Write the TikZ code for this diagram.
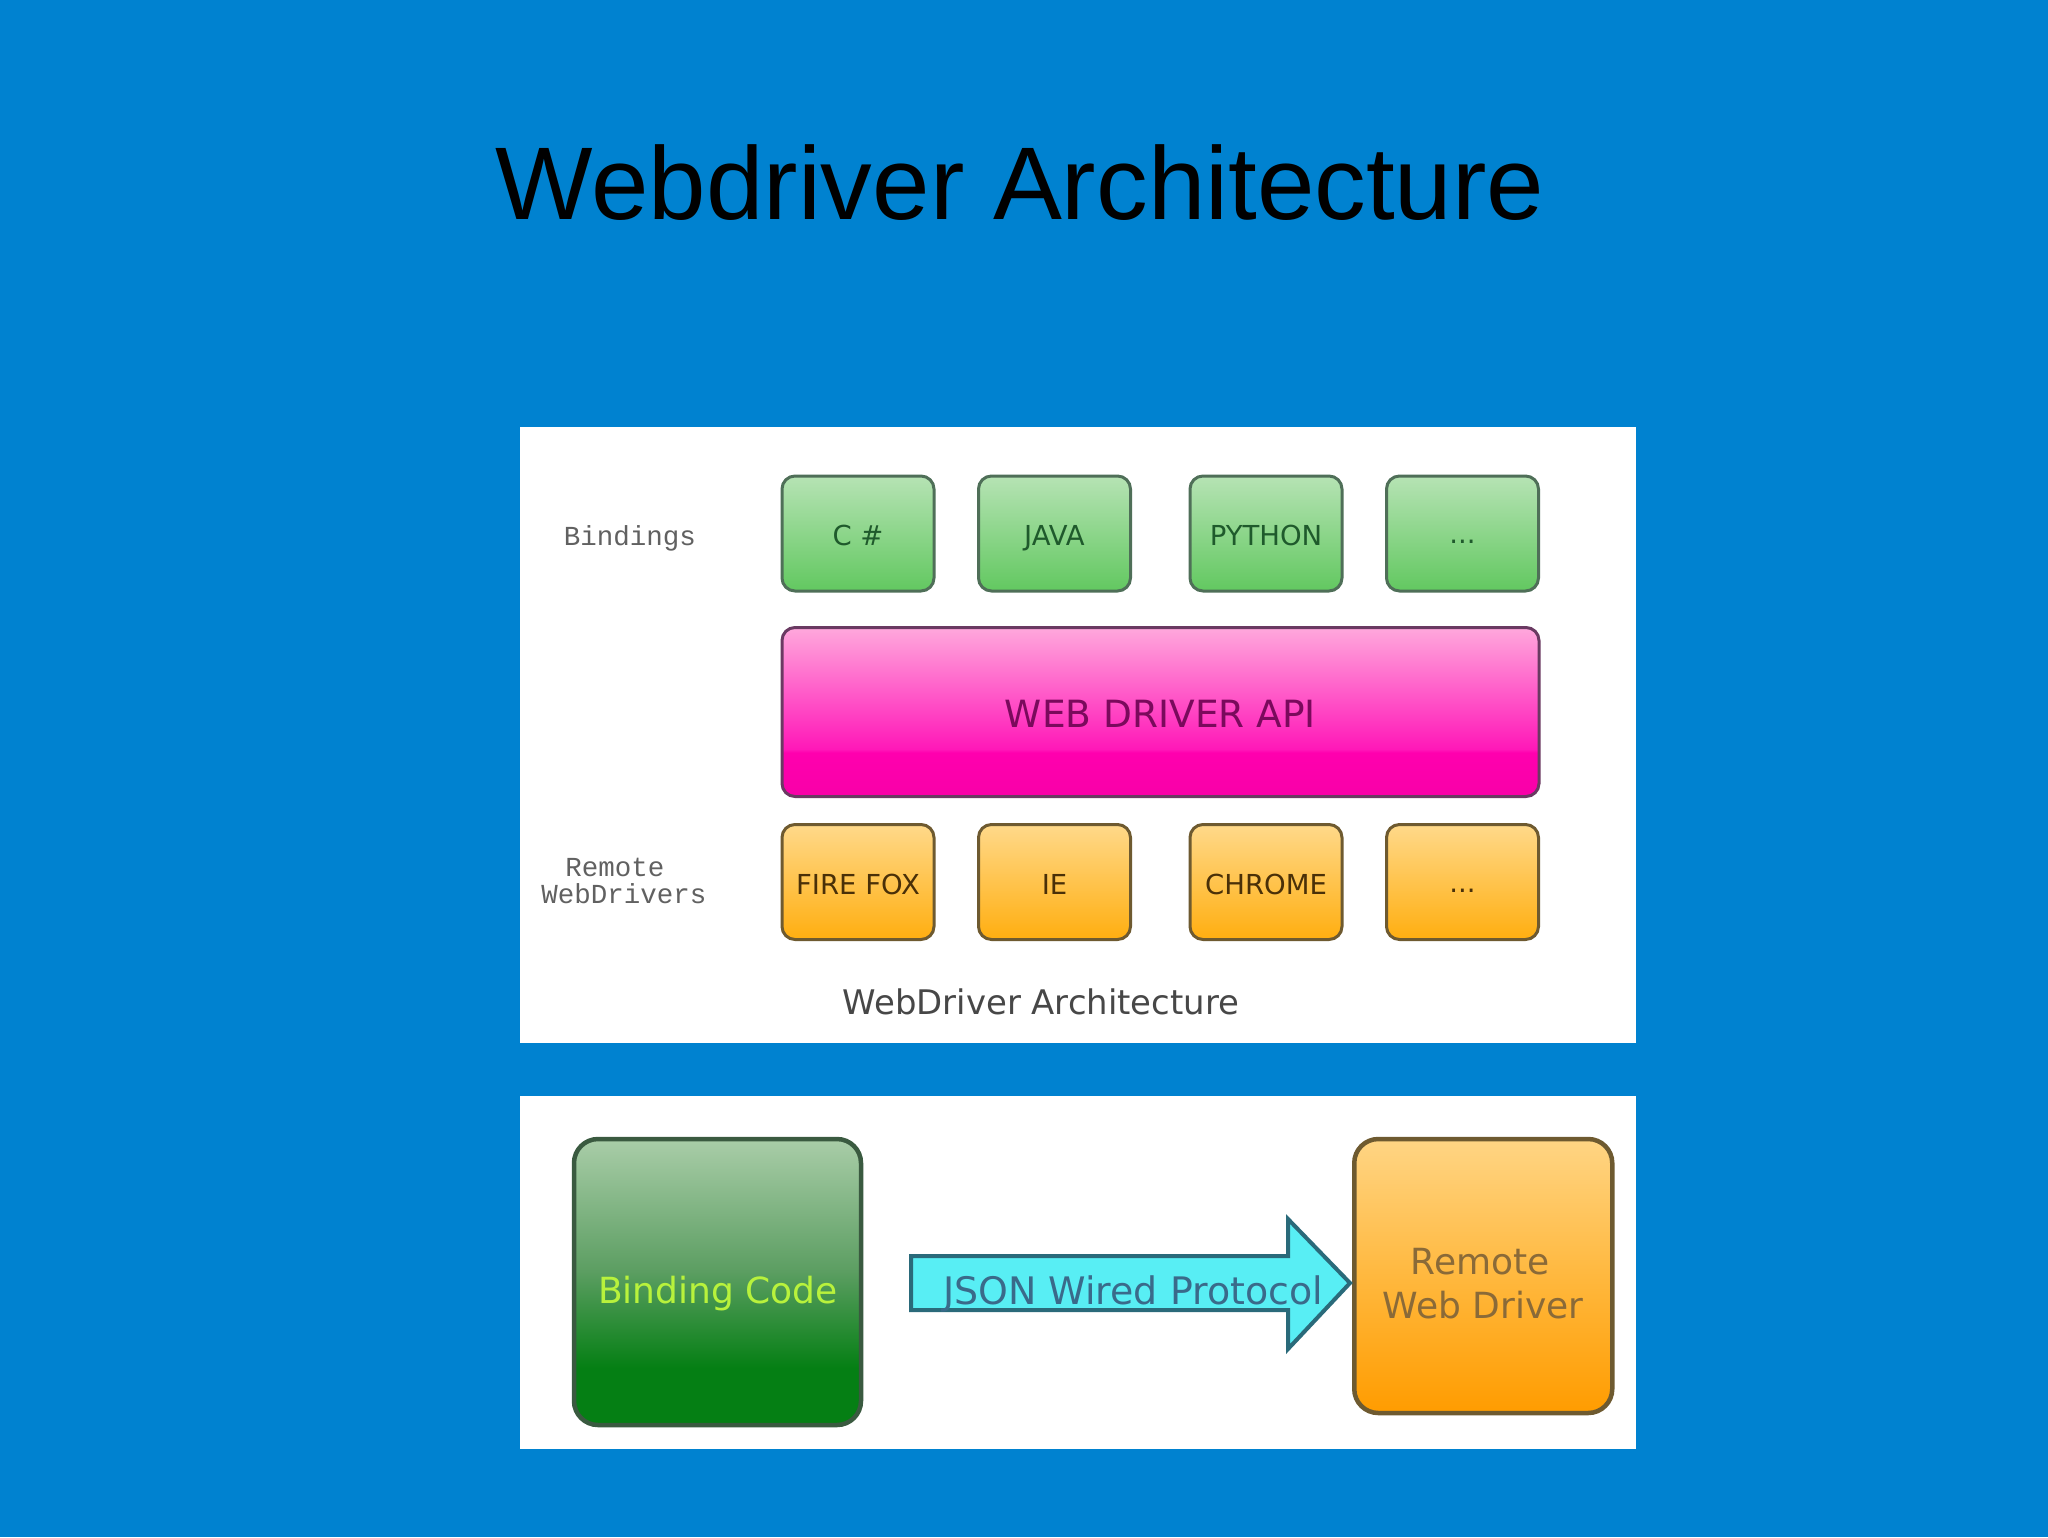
\documentclass[tikz,border=0pt]{standalone}
\usepackage{fontspec}
\setmainfont{DejaVu Sans}
\newfontfamily\titlefont{Liberation Sans}
\newfontfamily\codefont{Liberation Mono}
\definecolor{bgblue}{HTML}{0082D0}
\definecolor{gline}{HTML}{4F6F58}
\definecolor{oline}{HTML}{6E5A30}
\definecolor{pline}{HTML}{6A3A62}
\definecolor{ga}{HTML}{62C860}
\definecolor{gb}{HTML}{B6E3B4}
\definecolor{oa}{HTML}{FFAE10}
\definecolor{ob}{HTML}{FFD98A}
\definecolor{pa}{HTML}{F800A8}
\definecolor{pb}{HTML}{FF00AE}
\definecolor{pc}{HTML}{FF18B8}
\definecolor{pd}{HTML}{FFA8DC}
\definecolor{bga}{HTML}{057F14}
\definecolor{bgb}{HTML}{5C9E62}
\definecolor{bgc}{HTML}{A9CDA8}
\definecolor{boa}{HTML}{FF9C00}
\definecolor{bob}{HTML}{FFB83E}
\definecolor{boc}{HTML}{FFD584}
\definecolor{gtext}{HTML}{1F5A2C}
\definecolor{otext}{HTML}{4A3008}
\definecolor{ptext}{HTML}{7A0A5C}
\definecolor{lime}{HTML}{B8F23C}
\definecolor{rtext}{HTML}{8A6A38}
\definecolor{jtext}{HTML}{3A6A8A}
\definecolor{acyan}{HTML}{58EEF4}
\definecolor{aline}{HTML}{2A6A7A}
\definecolor{bgline}{HTML}{3A5A40}
\pgfdeclareverticalshading{gsmall}{100bp}{color(0bp)=(ga); color(25bp)=(ga); color(75bp)=(gb); color(100bp)=(gb)}
\pgfdeclareverticalshading{osmall}{100bp}{color(0bp)=(oa); color(25bp)=(oa); color(75bp)=(ob); color(100bp)=(ob)}
\pgfdeclareverticalshading{papi}{100bp}{color(0bp)=(pa); color(25bp)=(pa); color(38bp)=(pb); color(39bp)=(pc); color(75bp)=(pd); color(100bp)=(pd)}
\pgfdeclareverticalshading{gbig}{100bp}{color(0bp)=(bga); color(25bp)=(bga); color(35bp)=(bga); color(52bp)=(bgb); color(75bp)=(bgc); color(100bp)=(bgc)}
\pgfdeclareverticalshading{obig}{100bp}{color(0bp)=(boa); color(25bp)=(boa); color(50bp)=(bob); color(75bp)=(boc); color(100bp)=(boc)}
\tikzset{
  fs/.style={font=\fontsize{#1}{#1}\selectfont},
  box/.style={rounded corners=13pt,inner sep=0pt,text depth=0pt,text height=24pt,line width=3pt},
  dots/.style={text height=20pt},
  gbox/.style={box,draw=gline,shading=gsmall,text=gtext,minimum width=152pt,minimum height=115pt,fs=27.5},
  obox/.style={box,draw=oline,shading=osmall,text=otext,minimum width=152pt,minimum height=115pt,fs=27.5},
  apibox/.style={box,draw=pline,shading=papi,text=ptext,minimum width=757pt,minimum height=169pt,fs=37.5,text height=31pt},
  bigbox/.style={rounded corners=24pt,inner sep=0pt,line width=4.5pt},
  panel/.style={fill=white,draw=none,inner sep=0pt},
  sidelabel/.style={inner sep=0pt,text=black!62,align=center,font=\codefont\fontsize{27.5}{27.5}\selectfont},
}
\begin{document}
\begin{tikzpicture}[x=1pt,y=-1pt]
\useasboundingbox (0,0) rectangle (2048,1537);
\fill[bgblue] (0,0) rectangle (2048,1537);
\node[inner sep=0pt,text=black,font=\titlefont\fontsize{103.3}{103.3}\selectfont,anchor=base] (title) at (1020,219) {Webdriver Architecture};
% panels
\node[panel,minimum width=1115.5pt,minimum height=616pt] (panelA) at (1077.75,735) {};
\node[panel,minimum width=1115.5pt,minimum height=353pt] (panelB) at (1077.75,1272.5) {};
% bindings
\node[sidelabel] (lbind) at (630,538) {Bindings};
\node[gbox] (cs) at (858,533.5) {C \#};
\node[gbox] (java) at (1054.5,533.5) {JAVA};
\node[gbox] (python) at (1266,533.5) {PYTHON};
\node[gbox,dots] (gmore) at (1462.5,533.5) {...};
% api
\node[apibox] (api) at (1160.5,712) {WEB DRIVER API};
% drivers
\node[sidelabel] (ldrv) at (624,881) {Remote\kern18pt\\WebDrivers};
\node[obox] (ff) at (858,882) {FIRE FOX};
\node[obox] (ie) at (1054.5,882) {IE};
\node[obox] (chrome) at (1266,882) {CHROME};
\node[obox,dots] (omore) at (1462.5,882) {...};
\node[inner sep=0pt,text=black!72,fs=33.9] (cap) at (1041,1002) {WebDriver Architecture};
% bottom
\node[bigbox,draw=bgline,shading=gbig,minimum width=287pt,minimum height=286pt] (bind) at (717.5,1282) {};
\node[inner sep=0pt,text=lime,fs=36] (bindt) at (718,1294) {Binding Code};
\node[bigbox,draw=oline,shading=obig,minimum width=258pt,minimum height=274pt] (rwd) at (1483.25,1276) {};
\node[inner sep=0pt,text=rtext,align=center,font=\fontsize{36}{44}\selectfont] (rwdt) at (1483,1284) {Remote\kern6pt\\Web Driver};
\coordinate (tailt) at (911,1256);
\coordinate (tailb) at (911,1310);
\coordinate (neckt) at (1288,1256);
\coordinate (neckb) at (1288,1310);
\coordinate (headt) at (1288,1219);
\coordinate (headb) at (1288,1349);
\coordinate (tip) at (1350,1283);
\draw[line width=4pt,draw=aline,fill=acyan,line join=miter] (tailt) -- (neckt) -- (headt) -- (tip) -- (headb) -- (neckb) -- (tailb) -- cycle;
\node[inner sep=0pt,text=jtext,fs=37.9] (jsont) at (1133,1294) {JSON Wired Protocol};
\end{tikzpicture}
\end{document}
